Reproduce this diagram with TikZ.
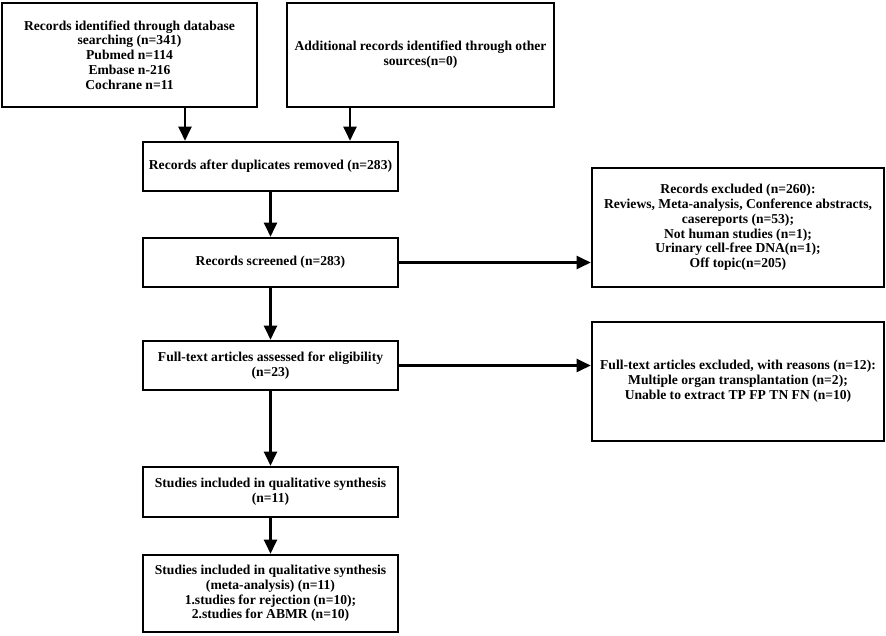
\documentclass[tikz,border=0pt]{standalone}
\usepackage{fontspec}
\setmainfont{Liberation Serif}
\usetikzlibrary{arrows.meta}

\tikzset{
  box/.style={draw, line width=2.6pt, align=center, inner sep=2pt,
    font=\bfseries\fontsize{13.6}{14.8}\selectfont},
  arr/.style={line width=2.3pt, -{Triangle[length=14pt,width=13pt]}}
}

\begin{document}
\begin{tikzpicture}[x=1pt,y=-1pt]
  %%%%% START %%%%%
  \useasboundingbox (0,0) rectangle (886,635);

  \node[box, minimum width=255pt, minimum height=104pt] (ident) at (129.5,55)
    {Records identified through database\\searching (n=341)\\Pubmed n=114\\Embase n-216\\Cochrane n=11};
  \node[box, minimum width=267pt, minimum height=104pt] (other) at (420.5,55)
    {Additional records identified through other\\sources(n=0)};

  \node[box, minimum width=255pt, minimum height=49pt] (dupl) at (270.5,166.5)
    {Records after duplicates removed (n=283)};
  \node[box, minimum width=255pt, minimum height=49pt] (screen) at (270.5,262.5)
    {Records screened (n=283)};
  \node[box, minimum width=292pt, minimum height=119pt] (excl) at (738,227.5)
    {Records excluded (n=260):\\Reviews, Meta-analysis, Conference abstracts,\\casereports (n=53);\\Not human studies (n=1);\\Urinary cell-free DNA(n=1);\\Off topic(n=205)};

  \node[box, minimum width=255pt, minimum height=49pt] (full) at (270.5,365.5)
    {Full-text articles assessed for eligibility\\(n=23)};
  \node[box, minimum width=292pt, minimum height=119pt] (fullexcl) at (738,381.5)
    {Full-text articles excluded, with reasons (n=12):\\Multiple organ transplantation (n=2);\\Unable to extract TP FP TN FN (n=10)};

  \node[box, minimum width=255pt, minimum height=50pt] (qual) at (270.5,492)
    {Studies included in qualitative synthesis\\(n=11)};
  \node[box, minimum width=255pt, minimum height=77pt] (meta) at (270.5,593.5)
    {Studies included in qualitative synthesis\\(meta-analysis) (n=11)\\1.studies for rejection (n=10);\\2.studies for ABMR (n=10)};

  % arrows
  \draw[arr] ([xshift=55.5pt]ident.south) -- ([xshift=55.5pt]ident.south |- dupl.north);
  \draw[arr] ([xshift=-70.5pt]other.south) -- ([xshift=-70.5pt]other.south |- dupl.north);
  \draw[arr] (dupl) -- (screen);
  \draw[arr] (screen.east) -- (screen.east -| excl.west);
  \draw[arr] (screen) -- (full);
  \draw[arr] (full.east) -- (full.east -| fullexcl.west);
  \draw[arr] (full) -- (qual);
  \draw[arr] (qual) -- (meta);
  %%%%% END %%%%%
\end{tikzpicture}
\end{document}
